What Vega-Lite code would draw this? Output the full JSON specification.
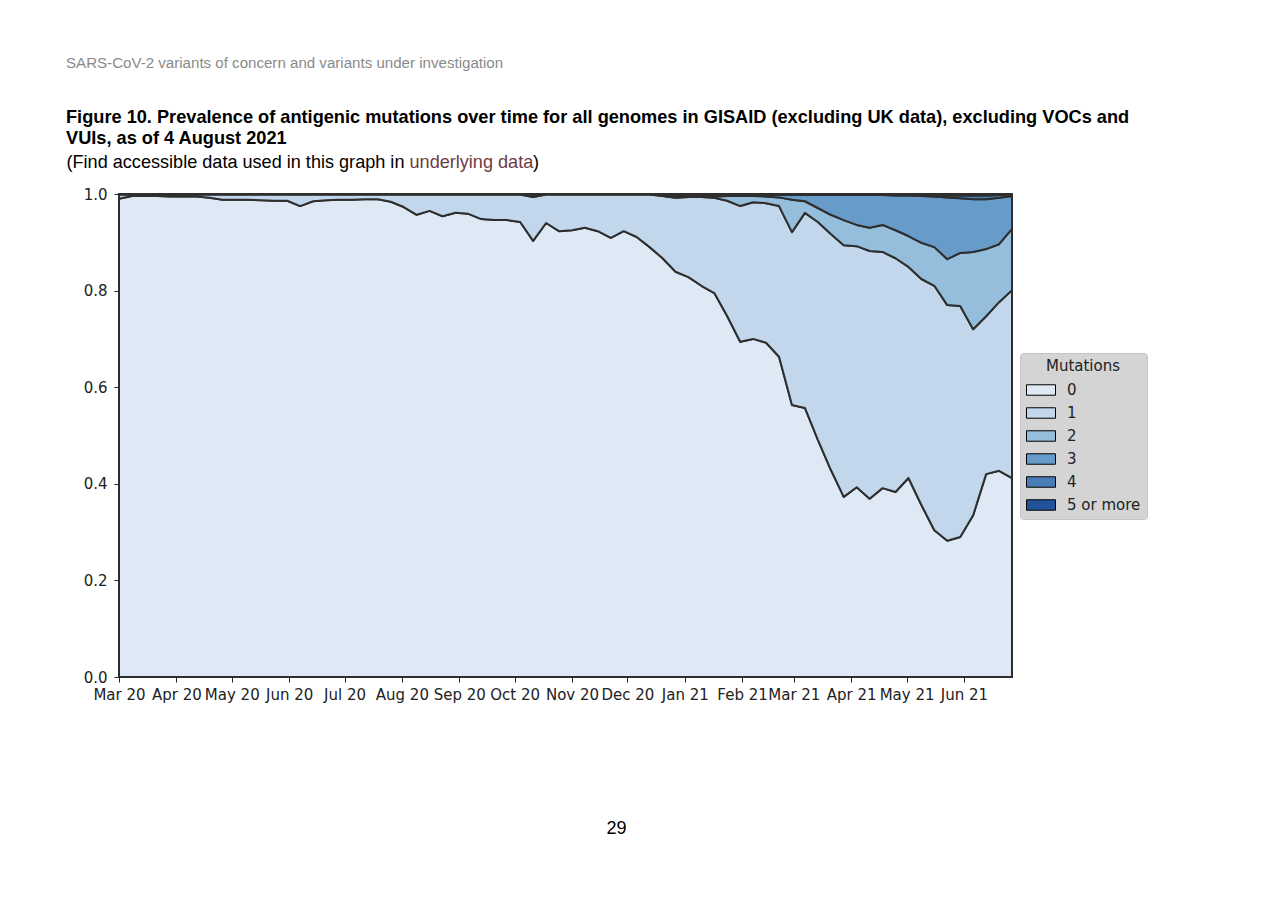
{
"$schema": "https://vega.github.io/schema/vega-lite/v6.json",
"autosize": {"type": "none"},
"padding": {"left": 119, "top": 194, "right": 268, "bottom": 224},
"width": 893,
"height": 483,
"background": "#ffffff",
"title": {
  "text": "SARS-CoV-2 variants of concern and variants under investigation",
  "subtitle": ["Figure 10. Prevalence of antigenic mutations over time for all genomes in GISAID (excluding UK data), excluding VOCs and", "VUIs, as of 4 August 2021"],
  "anchor": "start", "frame": "group", "orient": "top", "dx": -53, "offset": 6,
  "font": "Liberation Sans", "fontSize": 15.1, "fontWeight": "normal", "color": "#8a8a8a",
  "subtitleFont": "Liberation Sans", "subtitleFontSize": 18.2, "subtitleFontWeight": "bold", "subtitleColor": "#000000", "subtitleLineHeight": 21, "subtitlePadding": 38
},
"data": {"values": [
{"w":"2020-03-01","m":"0","p":0.990},{"w":"2020-03-01","m":"1","p":0.009},{"w":"2020-03-01","m":"2","p":0.0005},{"w":"2020-03-01","m":"3","p":0.0003},{"w":"2020-03-01","m":"4","p":0.0001},{"w":"2020-03-01","m":"5 or more","p":0.0001},
{"w":"2020-03-08","m":"0","p":0.996},{"w":"2020-03-08","m":"1","p":0.003},{"w":"2020-03-08","m":"2","p":0.0005},{"w":"2020-03-08","m":"3","p":0.0003},{"w":"2020-03-08","m":"4","p":0.0001},{"w":"2020-03-08","m":"5 or more","p":0.0001},
{"w":"2020-03-15","m":"0","p":0.996},{"w":"2020-03-15","m":"1","p":0.003},{"w":"2020-03-15","m":"2","p":0.0005},{"w":"2020-03-15","m":"3","p":0.0003},{"w":"2020-03-15","m":"4","p":0.0001},{"w":"2020-03-15","m":"5 or more","p":0.0001},
{"w":"2020-03-22","m":"0","p":0.996},{"w":"2020-03-22","m":"1","p":0.003},{"w":"2020-03-22","m":"2","p":0.0005},{"w":"2020-03-22","m":"3","p":0.0003},{"w":"2020-03-22","m":"4","p":0.0001},{"w":"2020-03-22","m":"5 or more","p":0.0001},
{"w":"2020-03-29","m":"0","p":0.995},{"w":"2020-03-29","m":"1","p":0.004},{"w":"2020-03-29","m":"2","p":0.0005},{"w":"2020-03-29","m":"3","p":0.0003},{"w":"2020-03-29","m":"4","p":0.0001},{"w":"2020-03-29","m":"5 or more","p":0.0001},
{"w":"2020-04-05","m":"0","p":0.995},{"w":"2020-04-05","m":"1","p":0.004},{"w":"2020-04-05","m":"2","p":0.0005},{"w":"2020-04-05","m":"3","p":0.0003},{"w":"2020-04-05","m":"4","p":0.0001},{"w":"2020-04-05","m":"5 or more","p":0.0001},
{"w":"2020-04-12","m":"0","p":0.995},{"w":"2020-04-12","m":"1","p":0.004},{"w":"2020-04-12","m":"2","p":0.0005},{"w":"2020-04-12","m":"3","p":0.0003},{"w":"2020-04-12","m":"4","p":0.0001},{"w":"2020-04-12","m":"5 or more","p":0.0001},
{"w":"2020-04-19","m":"0","p":0.992},{"w":"2020-04-19","m":"1","p":0.007},{"w":"2020-04-19","m":"2","p":0.0005},{"w":"2020-04-19","m":"3","p":0.0003},{"w":"2020-04-19","m":"4","p":0.0001},{"w":"2020-04-19","m":"5 or more","p":0.0001},
{"w":"2020-04-26","m":"0","p":0.988},{"w":"2020-04-26","m":"1","p":0.011},{"w":"2020-04-26","m":"2","p":0.0005},{"w":"2020-04-26","m":"3","p":0.0003},{"w":"2020-04-26","m":"4","p":0.0001},{"w":"2020-04-26","m":"5 or more","p":0.0001},
{"w":"2020-05-03","m":"0","p":0.988},{"w":"2020-05-03","m":"1","p":0.011},{"w":"2020-05-03","m":"2","p":0.0005},{"w":"2020-05-03","m":"3","p":0.0003},{"w":"2020-05-03","m":"4","p":0.0001},{"w":"2020-05-03","m":"5 or more","p":0.0001},
{"w":"2020-05-10","m":"0","p":0.988},{"w":"2020-05-10","m":"1","p":0.011},{"w":"2020-05-10","m":"2","p":0.0005},{"w":"2020-05-10","m":"3","p":0.0003},{"w":"2020-05-10","m":"4","p":0.0001},{"w":"2020-05-10","m":"5 or more","p":0.0001},
{"w":"2020-05-17","m":"0","p":0.987},{"w":"2020-05-17","m":"1","p":0.012},{"w":"2020-05-17","m":"2","p":0.0005},{"w":"2020-05-17","m":"3","p":0.0003},{"w":"2020-05-17","m":"4","p":0.0001},{"w":"2020-05-17","m":"5 or more","p":0.0001},
{"w":"2020-05-24","m":"0","p":0.986},{"w":"2020-05-24","m":"1","p":0.013},{"w":"2020-05-24","m":"2","p":0.0005},{"w":"2020-05-24","m":"3","p":0.0003},{"w":"2020-05-24","m":"4","p":0.0001},{"w":"2020-05-24","m":"5 or more","p":0.0001},
{"w":"2020-05-31","m":"0","p":0.986},{"w":"2020-05-31","m":"1","p":0.013},{"w":"2020-05-31","m":"2","p":0.0005},{"w":"2020-05-31","m":"3","p":0.0003},{"w":"2020-05-31","m":"4","p":0.0001},{"w":"2020-05-31","m":"5 or more","p":0.0001},
{"w":"2020-06-07","m":"0","p":0.975},{"w":"2020-06-07","m":"1","p":0.024},{"w":"2020-06-07","m":"2","p":0.0005},{"w":"2020-06-07","m":"3","p":0.0003},{"w":"2020-06-07","m":"4","p":0.0001},{"w":"2020-06-07","m":"5 or more","p":0.0001},
{"w":"2020-06-14","m":"0","p":0.985},{"w":"2020-06-14","m":"1","p":0.014},{"w":"2020-06-14","m":"2","p":0.0005},{"w":"2020-06-14","m":"3","p":0.0003},{"w":"2020-06-14","m":"4","p":0.0001},{"w":"2020-06-14","m":"5 or more","p":0.0001},
{"w":"2020-06-21","m":"0","p":0.987},{"w":"2020-06-21","m":"1","p":0.012},{"w":"2020-06-21","m":"2","p":0.0005},{"w":"2020-06-21","m":"3","p":0.0003},{"w":"2020-06-21","m":"4","p":0.0001},{"w":"2020-06-21","m":"5 or more","p":0.0001},
{"w":"2020-06-28","m":"0","p":0.988},{"w":"2020-06-28","m":"1","p":0.011},{"w":"2020-06-28","m":"2","p":0.0005},{"w":"2020-06-28","m":"3","p":0.0003},{"w":"2020-06-28","m":"4","p":0.0001},{"w":"2020-06-28","m":"5 or more","p":0.0001},
{"w":"2020-07-05","m":"0","p":0.988},{"w":"2020-07-05","m":"1","p":0.011},{"w":"2020-07-05","m":"2","p":0.0005},{"w":"2020-07-05","m":"3","p":0.0003},{"w":"2020-07-05","m":"4","p":0.0001},{"w":"2020-07-05","m":"5 or more","p":0.0001},
{"w":"2020-07-12","m":"0","p":0.989},{"w":"2020-07-12","m":"1","p":0.010},{"w":"2020-07-12","m":"2","p":0.0005},{"w":"2020-07-12","m":"3","p":0.0003},{"w":"2020-07-12","m":"4","p":0.0001},{"w":"2020-07-12","m":"5 or more","p":0.0001},
{"w":"2020-07-19","m":"0","p":0.989},{"w":"2020-07-19","m":"1","p":0.010},{"w":"2020-07-19","m":"2","p":0.0005},{"w":"2020-07-19","m":"3","p":0.0003},{"w":"2020-07-19","m":"4","p":0.0001},{"w":"2020-07-19","m":"5 or more","p":0.0001},
{"w":"2020-07-26","m":"0","p":0.984},{"w":"2020-07-26","m":"1","p":0.015},{"w":"2020-07-26","m":"2","p":0.0005},{"w":"2020-07-26","m":"3","p":0.0003},{"w":"2020-07-26","m":"4","p":0.0001},{"w":"2020-07-26","m":"5 or more","p":0.0001},
{"w":"2020-08-02","m":"0","p":0.973},{"w":"2020-08-02","m":"1","p":0.026},{"w":"2020-08-02","m":"2","p":0.0005},{"w":"2020-08-02","m":"3","p":0.0003},{"w":"2020-08-02","m":"4","p":0.0001},{"w":"2020-08-02","m":"5 or more","p":0.0001},
{"w":"2020-08-09","m":"0","p":0.957},{"w":"2020-08-09","m":"1","p":0.042},{"w":"2020-08-09","m":"2","p":0.0005},{"w":"2020-08-09","m":"3","p":0.0003},{"w":"2020-08-09","m":"4","p":0.0001},{"w":"2020-08-09","m":"5 or more","p":0.0001},
{"w":"2020-08-16","m":"0","p":0.965},{"w":"2020-08-16","m":"1","p":0.034},{"w":"2020-08-16","m":"2","p":0.0005},{"w":"2020-08-16","m":"3","p":0.0003},{"w":"2020-08-16","m":"4","p":0.0001},{"w":"2020-08-16","m":"5 or more","p":0.0001},
{"w":"2020-08-23","m":"0","p":0.954},{"w":"2020-08-23","m":"1","p":0.045},{"w":"2020-08-23","m":"2","p":0.0005},{"w":"2020-08-23","m":"3","p":0.0003},{"w":"2020-08-23","m":"4","p":0.0001},{"w":"2020-08-23","m":"5 or more","p":0.0001},
{"w":"2020-08-30","m":"0","p":0.961},{"w":"2020-08-30","m":"1","p":0.038},{"w":"2020-08-30","m":"2","p":0.0005},{"w":"2020-08-30","m":"3","p":0.0003},{"w":"2020-08-30","m":"4","p":0.0001},{"w":"2020-08-30","m":"5 or more","p":0.0001},
{"w":"2020-09-06","m":"0","p":0.959},{"w":"2020-09-06","m":"1","p":0.040},{"w":"2020-09-06","m":"2","p":0.0005},{"w":"2020-09-06","m":"3","p":0.0003},{"w":"2020-09-06","m":"4","p":0.0001},{"w":"2020-09-06","m":"5 or more","p":0.0001},
{"w":"2020-09-13","m":"0","p":0.948},{"w":"2020-09-13","m":"1","p":0.051},{"w":"2020-09-13","m":"2","p":0.0005},{"w":"2020-09-13","m":"3","p":0.0003},{"w":"2020-09-13","m":"4","p":0.0001},{"w":"2020-09-13","m":"5 or more","p":0.0001},
{"w":"2020-09-20","m":"0","p":0.946},{"w":"2020-09-20","m":"1","p":0.053},{"w":"2020-09-20","m":"2","p":0.0005},{"w":"2020-09-20","m":"3","p":0.0003},{"w":"2020-09-20","m":"4","p":0.0001},{"w":"2020-09-20","m":"5 or more","p":0.0001},
{"w":"2020-09-27","m":"0","p":0.946},{"w":"2020-09-27","m":"1","p":0.053},{"w":"2020-09-27","m":"2","p":0.0005},{"w":"2020-09-27","m":"3","p":0.0003},{"w":"2020-09-27","m":"4","p":0.0001},{"w":"2020-09-27","m":"5 or more","p":0.0001},
{"w":"2020-10-04","m":"0","p":0.942},{"w":"2020-10-04","m":"1","p":0.057},{"w":"2020-10-04","m":"2","p":0.0005},{"w":"2020-10-04","m":"3","p":0.0003},{"w":"2020-10-04","m":"4","p":0.0001},{"w":"2020-10-04","m":"5 or more","p":0.0001},
{"w":"2020-10-11","m":"0","p":0.903},{"w":"2020-10-11","m":"1","p":0.091},{"w":"2020-10-11","m":"2","p":0.002},{"w":"2020-10-11","m":"3","p":0.001},{"w":"2020-10-11","m":"4","p":0.001},{"w":"2020-10-11","m":"5 or more","p":0.002},
{"w":"2020-10-18","m":"0","p":0.940},{"w":"2020-10-18","m":"1","p":0.059},{"w":"2020-10-18","m":"2","p":0.0005},{"w":"2020-10-18","m":"3","p":0.0003},{"w":"2020-10-18","m":"4","p":0.0001},{"w":"2020-10-18","m":"5 or more","p":0.0001},
{"w":"2020-10-25","m":"0","p":0.923},{"w":"2020-10-25","m":"1","p":0.076},{"w":"2020-10-25","m":"2","p":0.0005},{"w":"2020-10-25","m":"3","p":0.0003},{"w":"2020-10-25","m":"4","p":0.0001},{"w":"2020-10-25","m":"5 or more","p":0.0001},
{"w":"2020-11-01","m":"0","p":0.925},{"w":"2020-11-01","m":"1","p":0.074},{"w":"2020-11-01","m":"2","p":0.0005},{"w":"2020-11-01","m":"3","p":0.0003},{"w":"2020-11-01","m":"4","p":0.0001},{"w":"2020-11-01","m":"5 or more","p":0.0001},
{"w":"2020-11-08","m":"0","p":0.930},{"w":"2020-11-08","m":"1","p":0.069},{"w":"2020-11-08","m":"2","p":0.0005},{"w":"2020-11-08","m":"3","p":0.0003},{"w":"2020-11-08","m":"4","p":0.0001},{"w":"2020-11-08","m":"5 or more","p":0.0001},
{"w":"2020-11-15","m":"0","p":0.923},{"w":"2020-11-15","m":"1","p":0.076},{"w":"2020-11-15","m":"2","p":0.0005},{"w":"2020-11-15","m":"3","p":0.0003},{"w":"2020-11-15","m":"4","p":0.0001},{"w":"2020-11-15","m":"5 or more","p":0.0001},
{"w":"2020-11-22","m":"0","p":0.909},{"w":"2020-11-22","m":"1","p":0.090},{"w":"2020-11-22","m":"2","p":0.0005},{"w":"2020-11-22","m":"3","p":0.0003},{"w":"2020-11-22","m":"4","p":0.0001},{"w":"2020-11-22","m":"5 or more","p":0.0001},
{"w":"2020-11-29","m":"0","p":0.923},{"w":"2020-11-29","m":"1","p":0.076},{"w":"2020-11-29","m":"2","p":0.0005},{"w":"2020-11-29","m":"3","p":0.0003},{"w":"2020-11-29","m":"4","p":0.0001},{"w":"2020-11-29","m":"5 or more","p":0.0001},
{"w":"2020-12-06","m":"0","p":0.911},{"w":"2020-12-06","m":"1","p":0.088},{"w":"2020-12-06","m":"2","p":0.0005},{"w":"2020-12-06","m":"3","p":0.0003},{"w":"2020-12-06","m":"4","p":0.0001},{"w":"2020-12-06","m":"5 or more","p":0.0001},
{"w":"2020-12-13","m":"0","p":0.890},{"w":"2020-12-13","m":"1","p":0.109},{"w":"2020-12-13","m":"2","p":0.0005},{"w":"2020-12-13","m":"3","p":0.0003},{"w":"2020-12-13","m":"4","p":0.0001},{"w":"2020-12-13","m":"5 or more","p":0.0001},
{"w":"2020-12-20","m":"0","p":0.867},{"w":"2020-12-20","m":"1","p":0.129},{"w":"2020-12-20","m":"2","p":0.001},{"w":"2020-12-20","m":"3","p":0.001},{"w":"2020-12-20","m":"4","p":0.001},{"w":"2020-12-20","m":"5 or more","p":0.001},
{"w":"2020-12-27","m":"0","p":0.839},{"w":"2020-12-27","m":"1","p":0.153},{"w":"2020-12-27","m":"2","p":0.002},{"w":"2020-12-27","m":"3","p":0.002},{"w":"2020-12-27","m":"4","p":0.002},{"w":"2020-12-27","m":"5 or more","p":0.002},
{"w":"2021-01-03","m":"0","p":0.828},{"w":"2021-01-03","m":"1","p":0.166},{"w":"2021-01-03","m":"2","p":0.002},{"w":"2021-01-03","m":"3","p":0.002},{"w":"2021-01-03","m":"4","p":0.001},{"w":"2021-01-03","m":"5 or more","p":0.001},
{"w":"2021-01-10","m":"0","p":0.810},{"w":"2021-01-10","m":"1","p":0.184},{"w":"2021-01-10","m":"2","p":0.002},{"w":"2021-01-10","m":"3","p":0.002},{"w":"2021-01-10","m":"4","p":0.001},{"w":"2021-01-10","m":"5 or more","p":0.001},
{"w":"2021-01-17","m":"0","p":0.795},{"w":"2021-01-17","m":"1","p":0.197},{"w":"2021-01-17","m":"2","p":0.003},{"w":"2021-01-17","m":"3","p":0.003},{"w":"2021-01-17","m":"4","p":0.001},{"w":"2021-01-17","m":"5 or more","p":0.001},
{"w":"2021-01-24","m":"0","p":0.747},{"w":"2021-01-24","m":"1","p":0.239},{"w":"2021-01-24","m":"2","p":0.010},{"w":"2021-01-24","m":"3","p":0.002},{"w":"2021-01-24","m":"4","p":0.001},{"w":"2021-01-24","m":"5 or more","p":0.001},
{"w":"2021-01-31","m":"0","p":0.694},{"w":"2021-01-31","m":"1","p":0.281},{"w":"2021-01-31","m":"2","p":0.021},{"w":"2021-01-31","m":"3","p":0.002},{"w":"2021-01-31","m":"4","p":0.001},{"w":"2021-01-31","m":"5 or more","p":0.001},
{"w":"2021-02-07","m":"0","p":0.700},{"w":"2021-02-07","m":"1","p":0.283},{"w":"2021-02-07","m":"2","p":0.013},{"w":"2021-02-07","m":"3","p":0.002},{"w":"2021-02-07","m":"4","p":0.001},{"w":"2021-02-07","m":"5 or more","p":0.001},
{"w":"2021-02-14","m":"0","p":0.692},{"w":"2021-02-14","m":"1","p":0.289},{"w":"2021-02-14","m":"2","p":0.014},{"w":"2021-02-14","m":"3","p":0.003},{"w":"2021-02-14","m":"4","p":0.001},{"w":"2021-02-14","m":"5 or more","p":0.001},
{"w":"2021-02-21","m":"0","p":0.663},{"w":"2021-02-21","m":"1","p":0.312},{"w":"2021-02-21","m":"2","p":0.018},{"w":"2021-02-21","m":"3","p":0.005},{"w":"2021-02-21","m":"4","p":0.001},{"w":"2021-02-21","m":"5 or more","p":0.001},
{"w":"2021-02-28","m":"0","p":0.563},{"w":"2021-02-28","m":"1","p":0.358},{"w":"2021-02-28","m":"2","p":0.067},{"w":"2021-02-28","m":"3","p":0.010},{"w":"2021-02-28","m":"4","p":0.001},{"w":"2021-02-28","m":"5 or more","p":0.001},
{"w":"2021-03-07","m":"0","p":0.557},{"w":"2021-03-07","m":"1","p":0.404},{"w":"2021-03-07","m":"2","p":0.024},{"w":"2021-03-07","m":"3","p":0.013},{"w":"2021-03-07","m":"4","p":0.001},{"w":"2021-03-07","m":"5 or more","p":0.001},
{"w":"2021-03-14","m":"0","p":0.491},{"w":"2021-03-14","m":"1","p":0.451},{"w":"2021-03-14","m":"2","p":0.029},{"w":"2021-03-14","m":"3","p":0.027},{"w":"2021-03-14","m":"4","p":0.001},{"w":"2021-03-14","m":"5 or more","p":0.001},
{"w":"2021-03-21","m":"0","p":0.429},{"w":"2021-03-21","m":"1","p":0.488},{"w":"2021-03-21","m":"2","p":0.040},{"w":"2021-03-21","m":"3","p":0.041},{"w":"2021-03-21","m":"4","p":0.001},{"w":"2021-03-21","m":"5 or more","p":0.001},
{"w":"2021-03-28","m":"0","p":0.373},{"w":"2021-03-28","m":"1","p":0.521},{"w":"2021-03-28","m":"2","p":0.052},{"w":"2021-03-28","m":"3","p":0.052},{"w":"2021-03-28","m":"4","p":0.001},{"w":"2021-03-28","m":"5 or more","p":0.001},
{"w":"2021-04-04","m":"0","p":0.393},{"w":"2021-04-04","m":"1","p":0.499},{"w":"2021-04-04","m":"2","p":0.044},{"w":"2021-04-04","m":"3","p":0.062},{"w":"2021-04-04","m":"4","p":0.001},{"w":"2021-04-04","m":"5 or more","p":0.001},
{"w":"2021-04-11","m":"0","p":0.369},{"w":"2021-04-11","m":"1","p":0.513},{"w":"2021-04-11","m":"2","p":0.048},{"w":"2021-04-11","m":"3","p":0.068},{"w":"2021-04-11","m":"4","p":0.001},{"w":"2021-04-11","m":"5 or more","p":0.001},
{"w":"2021-04-18","m":"0","p":0.391},{"w":"2021-04-18","m":"1","p":0.489},{"w":"2021-04-18","m":"2","p":0.056},{"w":"2021-04-18","m":"3","p":0.062},{"w":"2021-04-18","m":"4","p":0.001},{"w":"2021-04-18","m":"5 or more","p":0.001},
{"w":"2021-04-25","m":"0","p":0.383},{"w":"2021-04-25","m":"1","p":0.484},{"w":"2021-04-25","m":"2","p":0.058},{"w":"2021-04-25","m":"3","p":0.072},{"w":"2021-04-25","m":"4","p":0.002},{"w":"2021-04-25","m":"5 or more","p":0.001},
{"w":"2021-05-02","m":"0","p":0.412},{"w":"2021-05-02","m":"1","p":0.437},{"w":"2021-05-02","m":"2","p":0.064},{"w":"2021-05-02","m":"3","p":0.084},{"w":"2021-05-02","m":"4","p":0.002},{"w":"2021-05-02","m":"5 or more","p":0.001},
{"w":"2021-05-09","m":"0","p":0.356},{"w":"2021-05-09","m":"1","p":0.468},{"w":"2021-05-09","m":"2","p":0.075},{"w":"2021-05-09","m":"3","p":0.097},{"w":"2021-05-09","m":"4","p":0.003},{"w":"2021-05-09","m":"5 or more","p":0.001},
{"w":"2021-05-16","m":"0","p":0.304},{"w":"2021-05-16","m":"1","p":0.506},{"w":"2021-05-16","m":"2","p":0.080},{"w":"2021-05-16","m":"3","p":0.105},{"w":"2021-05-16","m":"4","p":0.003},{"w":"2021-05-16","m":"5 or more","p":0.002},
{"w":"2021-05-23","m":"0","p":0.282},{"w":"2021-05-23","m":"1","p":0.488},{"w":"2021-05-23","m":"2","p":0.095},{"w":"2021-05-23","m":"3","p":0.128},{"w":"2021-05-23","m":"4","p":0.004},{"w":"2021-05-23","m":"5 or more","p":0.003},
{"w":"2021-05-30","m":"0","p":0.290},{"w":"2021-05-30","m":"1","p":0.478},{"w":"2021-05-30","m":"2","p":0.110},{"w":"2021-05-30","m":"3","p":0.113},{"w":"2021-05-30","m":"4","p":0.006},{"w":"2021-05-30","m":"5 or more","p":0.003},
{"w":"2021-06-06","m":"0","p":0.335},{"w":"2021-06-06","m":"1","p":0.385},{"w":"2021-06-06","m":"2","p":0.160},{"w":"2021-06-06","m":"3","p":0.109},{"w":"2021-06-06","m":"4","p":0.008},{"w":"2021-06-06","m":"5 or more","p":0.003},
{"w":"2021-06-13","m":"0","p":0.420},{"w":"2021-06-13","m":"1","p":0.327},{"w":"2021-06-13","m":"2","p":0.139},{"w":"2021-06-13","m":"3","p":0.103},{"w":"2021-06-13","m":"4","p":0.008},{"w":"2021-06-13","m":"5 or more","p":0.003},
{"w":"2021-06-20","m":"0","p":0.427},{"w":"2021-06-20","m":"1","p":0.349},{"w":"2021-06-20","m":"2","p":0.120},{"w":"2021-06-20","m":"3","p":0.096},{"w":"2021-06-20","m":"4","p":0.006},{"w":"2021-06-20","m":"5 or more","p":0.002},
{"w":"2021-06-27","m":"0","p":0.412},{"w":"2021-06-27","m":"1","p":0.389},{"w":"2021-06-27","m":"2","p":0.127},{"w":"2021-06-27","m":"3","p":0.068},{"w":"2021-06-27","m":"4","p":0.003},{"w":"2021-06-27","m":"5 or more","p":0.001}
]},
"layer": [
 {
  "mark": {"type": "area", "interpolate": "linear", "stroke": "#2e2e2e", "strokeWidth": 2, "strokeJoin": "round", "opacity": 1},
  "encoding": {
   "x": {"field": "w", "type": "temporal", "scale": {"type": "utc"},
     "axis": {"orient": "bottom", "format": "%b %y", "tickCount": {"interval": "month", "step": 1}, "labelFlush": false, "labelOverlap": false, "grid": false, "domain": false, "tickSize": 5, "tickColor": "#222222", "labelPadding": 5, "labelFont": "DejaVu Sans", "labelFontSize": 15, "labelColor": "#222222",
       "title": "29", "titleX": 497, "titleY": 156, "titleAlign": "center", "titleBaseline": "alphabetic", "titleAngle": 0, "titleFont": "Liberation Sans", "titleFontSize": 18, "titleFontWeight": "normal", "titleColor": "#000000"}},
   "y": {"field": "p", "type": "quantitative", "stack": "zero", "scale": {"domain": [0, 1], "nice": false},
     "axis": {"orient": "left", "values": [0, 0.2, 0.4, 0.6, 0.8, 1], "format": ".1f", "grid": false, "domain": false, "tickSize": 5, "tickColor": "#222222", "labelPadding": 7, "labelFont": "DejaVu Sans", "labelFontSize": 15, "labelColor": "#222222",
       "title": "(Find accessible data used in this graph in", "titleX": -53, "titleY": -27, "titleAngle": 0, "titleAlign": "left", "titleBaseline": "alphabetic", "titleFont": "Liberation Sans", "titleFontSize": 18.1, "titleFontWeight": "normal", "titleColor": "#000000"}},
   "color": {"field": "m", "type": "nominal", "title": "Mutations",
     "scale": {"domain": ["0", "1", "2", "3", "4", "5 or more"], "range": ["#dfe8f5", "#c2d7ec", "#95bedc", "#669bca", "#4a7db5", "#22529a"]},
     "legend": {"orient": "none", "legendX": 901, "legendY": 159, "titleFont": "DejaVu Sans", "titleFontSize": 15, "titleFontWeight": "normal", "titleColor": "#222222", "titleAnchor": "middle", "titlePadding": 1, "labelFont": "DejaVu Sans", "labelFontSize": 15, "labelColor": "#222222", "labelOffset": 11, "symbolType": "M-1,-0.36H1V0.36H-1Z", "symbolSize": 841, "symbolStrokeColor": "#000000", "symbolStrokeWidth": 1, "symbolOpacity": 1, "rowPadding": -7.4, "padding": 6, "fillColor": "#d4d4d4", "strokeColor": "#c4c4c4", "cornerRadius": 3}},
   "order": {"field": "m", "sort": "ascending"}
  }
 },
 {
  "data": {"values": [{}]},
  "mark": {"type": "point", "opacity": 0},
  "encoding": {
   "x": {"datum": {"year": 2020, "month": 3, "date": 1, "utc": true}, "type": "temporal",
     "axis": {"orient": "top", "labels": false, "ticks": false, "domain": false, "grid": false, "title": ")", "titleX": 413.5, "titleY": -27, "titleAngle": 0, "titleAlign": "left", "titleBaseline": "alphabetic", "titleFont": "Liberation Sans", "titleFontSize": 18.1, "titleFontWeight": "normal", "titleColor": "#000000"}},
   "y": {"datum": 0, "type": "quantitative",
     "axis": {"orient": "right", "labels": false, "ticks": false, "domain": false, "grid": false, "title": "underlying data", "titleX": -603, "titleY": -27, "titleAngle": 0, "titleAlign": "left", "titleBaseline": "alphabetic", "titleFont": "Liberation Sans", "titleFontSize": 18.1, "titleFontWeight": "normal", "titleColor": "#6d3b42"}}
  }
 }
],
"resolve": {"axis": {"x": "independent", "y": "independent"}},
"config": {
  "view": {"stroke": "#111111", "strokeWidth": 1.2},
  "axis": {"tickWidth": 1}
}
}
